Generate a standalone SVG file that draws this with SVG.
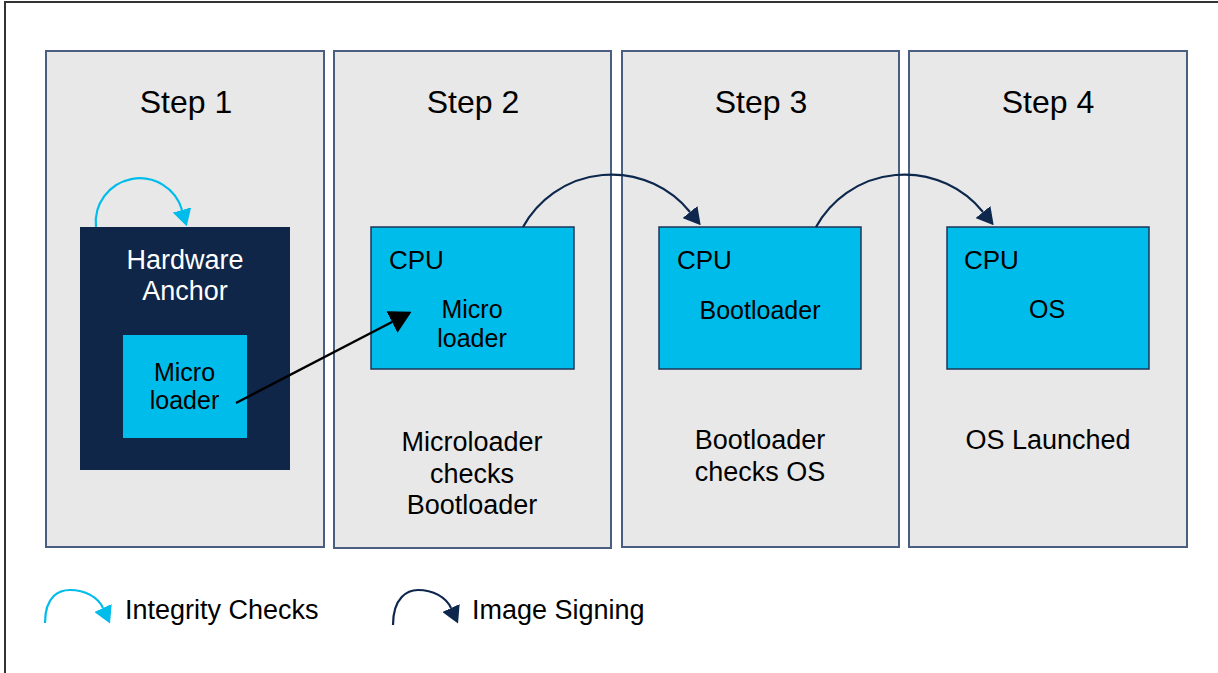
<svg xmlns="http://www.w3.org/2000/svg" width="1218" height="673" viewBox="0 0 1218 673">
<defs>
<style>
text{font-family:"Liberation Sans",Arial,sans-serif;fill:#000}
.panel{fill:#e8e8e8;stroke:#4a5e80;stroke-width:2}
.cpu{fill:#00bceb;stroke:#1c3658;stroke-width:1.5}
.step{font-size:32px;text-anchor:middle}
.lbl{font-size:27px;text-anchor:middle}
.inner{font-size:25px;text-anchor:middle}
.cpu-t{font-size:26px}
.leg{font-size:27px}
.ic{fill:none;stroke:#00bceb;stroke-width:2.2}
.is{fill:none;stroke:#0d274d;stroke-width:2.2}
.bk{fill:none;stroke:#000;stroke-width:2.5}
</style>
<marker id="mIc" markerUnits="userSpaceOnUse" viewBox="0 0 17 19" refX="0" refY="9.5" markerWidth="17" markerHeight="19" orient="auto"><path d="M0,0 L17,9.5 L0,19 z" fill="#00bceb"/></marker>
<marker id="mIs" markerUnits="userSpaceOnUse" viewBox="0 0 17 19" refX="0" refY="9.5" markerWidth="17" markerHeight="19" orient="auto"><path d="M0,0 L17,9.5 L0,19 z" fill="#0d274d"/></marker>
<marker id="mBk" markerUnits="userSpaceOnUse" viewBox="0 0 22 24" refX="0" refY="12" markerWidth="22" markerHeight="24" orient="auto"><path d="M0,0 L22,12 L0,24 z" fill="#000"/></marker>
</defs>
<rect width="1218" height="673" fill="#fff"/>
<path d="M5,673 V2 H1218" fill="none" stroke="#333" stroke-width="2"/>

<g id="step1">
<rect class="panel" x="46" y="51" width="278" height="496"/>
<text class="step" x="186" y="113">Step 1</text>
</g>
<g id="step2">
<rect class="panel" x="334" y="51" width="277" height="497"/>
<text class="step" x="473" y="113">Step 2</text>
<text class="lbl" x="472" y="451">Microloader</text>
<text class="lbl" x="472" y="483">checks</text>
<text class="lbl" x="472" y="514">Bootloader</text>
</g>
<g id="step3">
<rect class="panel" x="622" y="51" width="277" height="496"/>
<text class="step" x="761" y="113">Step 3</text>
<text class="lbl" x="760" y="449">Bootloader</text>
<text class="lbl" x="760" y="481">checks OS</text>
</g>
<g id="step4">
<rect class="panel" x="909" y="51" width="278" height="496"/>
<text class="step" x="1048" y="113">Step 4</text>
<text class="lbl" x="1048" y="449">OS Launched</text>
</g>

<g id="hw-anchor">
<rect x="80" y="227" width="210" height="243" fill="#0f2648"/>
<text class="lbl" x="185" y="269" style="fill:#fff">Hardware</text>
<text class="lbl" x="185" y="300" style="fill:#fff">Anchor</text>
</g>
<g id="hw-microloader">
<rect x="123" y="335" width="124" height="103" fill="#00bceb"/>
<text class="inner" x="184.5" y="381">Micro</text>
<text class="inner" x="184.5" y="409">loader</text>
</g>
<g id="cpu2">
<rect class="cpu" x="371" y="227" width="203" height="142"/>
<text class="cpu-t" x="389" y="269">CPU</text>
<text class="inner" x="472" y="318">Micro</text>
<text class="inner" x="472" y="347">loader</text>
</g>
<g id="cpu3">
<rect class="cpu" x="659" y="227" width="202" height="142"/>
<text class="cpu-t" x="677" y="269">CPU</text>
<text class="inner" x="760" y="319">Bootloader</text>
</g>
<g id="cpu4">
<rect class="cpu" x="947" y="227" width="202" height="142"/>
<text class="cpu-t" x="964" y="269">CPU</text>
<text class="inner" x="1047" y="318">OS</text>
</g>

<g id="connectors">
<path class="ic" d="M96,227 A44,44 0 0 1 182,210" marker-end="url(#mIc)"/>
<path class="bk" d="M236,403 L392,322" marker-end="url(#mBk)"/>
<path class="is" d="M523,227 A101,101 0 0 1 690,212" marker-end="url(#mIs)"/>
<path class="is" d="M816,227 A101,101 0 0 1 983,212" marker-end="url(#mIs)"/>
</g>

<g id="legend">
<path class="ic" d="M45,623 C45,595 60,590 70,590 C85,590 98,597 103,608" marker-end="url(#mIc)"/>
<text class="leg" x="125" y="619">Integrity Checks</text>
<path class="is" d="M393,625 C393,597 408,590 418,590 C433,590 446,597 451,608" marker-end="url(#mIs)"/>
<text class="leg" x="472" y="619">Image Signing</text>
</g>
</svg>
